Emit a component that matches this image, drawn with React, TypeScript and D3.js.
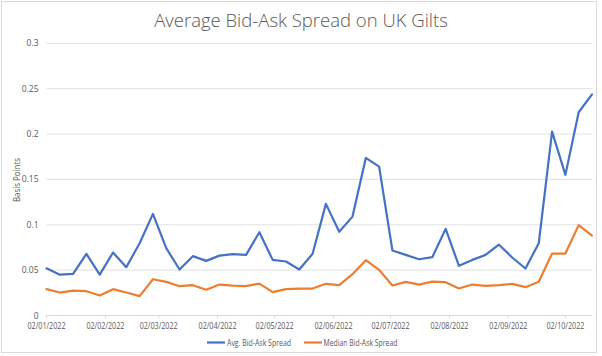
import React from "react";
import * as d3 from "d3";

const startDate = "2022-01-02";
const avgSpread = [
  0.052, 0.045, 0.0459, 0.068, 0.045, 0.0694, 0.0533, 0.0797, 0.112, 0.0742,
  0.0507, 0.0654, 0.0602, 0.066, 0.0676, 0.0668, 0.0918, 0.0613, 0.0595, 0.0507,
  0.068, 0.123, 0.0922, 0.109, 0.1737, 0.164, 0.0716, 0.0668, 0.062, 0.0643,
  0.0955, 0.0547, 0.0613, 0.0668, 0.0782, 0.0639, 0.0518, 0.0797, 0.2026, 0.155,
  0.224, 0.2438,
];
const medianSpread = [
  0.029, 0.0253, 0.0275, 0.0268, 0.022, 0.029, 0.0253, 0.0213, 0.04, 0.0371,
  0.0323, 0.0334, 0.0283, 0.0341, 0.033, 0.0323, 0.0352, 0.0257, 0.029, 0.0297,
  0.0297, 0.0349, 0.0334, 0.0455, 0.061, 0.0503, 0.033, 0.0371, 0.0341, 0.0374,
  0.0367, 0.0297, 0.0341, 0.0327, 0.0334, 0.0349, 0.0312, 0.0371, 0.0683, 0.0683,
  0.0996, 0.0881,
];
const yTicks = [0, 0.05, 0.1, 0.15, 0.2, 0.25, 0.3];
const xTickLabels = [
  "02/01/2022", "02/02/2022", "02/03/2022", "02/04/2022", "02/05/2022",
  "02/06/2022", "02/07/2022", "02/08/2022", "02/09/2022", "02/10/2022",
];
const seriesNames = ["Avg. Bid-Ask Spread", "Median Bid-Ask Spread"];
const colors = ["#4472C4", "#ED7D31"];

const W = 602;
const H = 356;
const textColor = "#595959";
const font = "'Open Sans', 'Liberation Sans', sans-serif";

export default function App() {
  const start = new Date(startDate + "T00:00:00");
  const dates = avgSpread.map((_, i) => d3.timeDay.offset(start, i * 7));
  const x = d3
    .scaleTime()
    .domain([dates[0], dates[dates.length - 1]])
    .range([46.5, 592]);
  const y = d3.scaleLinear().domain([0, 0.3]).range([315.5, 43.3]);
  const tickDates = xTickLabels.map((l) => {
    const [dd, mm, yy] = l.split("/").map(Number);
    return new Date(yy, mm - 1, dd);
  });
  const line = d3
    .line<number>()
    .x((_, i) => x(dates[i]))
    .y((d) => y(d));
  const series = [avgSpread, medianSpread];
  const fmt = (v: number) => (v === 0 ? "0" : String(+v.toFixed(2)));

  return (
    <svg
      width={W}
      height={H}
      style={{ position: "absolute", left: 0, top: 0, background: "#fff" }}
      fontFamily={font}
    >
      <rect x={0} y={0} width={W} height={H} fill="#fff" />
      <rect x={1.5} y={1.5} width={595} height={351} fill="none" stroke="#d9d9d9" strokeWidth={1} />
      <text x={301} y={27} textAnchor="middle" fontSize={18.5} fontWeight={300} fill={textColor}>
        Average Bid-Ask Spread on UK Gilts
      </text>
      {yTicks.map((t) => (
        <g key={t}>
          {t > 0 && (
            <line x1={46.5} x2={592.5} y1={y(t)} y2={y(t)} stroke="#d9d9d9" strokeWidth={0.8} />
          )}
          <text x={38.5} y={y(t) + 3} textAnchor="end" fontSize={8.5} fill={textColor}>
            {fmt(t)}
          </text>
        </g>
      ))}
      <line x1={46.5} x2={592.5} y1={y(0)} y2={y(0)} stroke="#d0d0d0" strokeWidth={0.8} />
      {tickDates.map((d, i) => (
        <g key={i}>
          <line x1={x(d)} x2={x(d)} y1={y(0)} y2={y(0) + 3} stroke="#d0d0d0" strokeWidth={0.8} />
          <text
            x={x(d)}
            y={328.5}
            textAnchor="middle"
            fontSize={8.5}
            fill={textColor}
            textLength={38}
            lengthAdjust="spacingAndGlyphs"
          >
            {xTickLabels[i]}
          </text>
        </g>
      ))}
      <text
        transform={`translate(19.5,180) rotate(-90)`}
        textAnchor="middle"
        fontSize={8.5}
        fill={textColor}
        textLength={44}
        lengthAdjust="spacingAndGlyphs"
      >
        Basis Points
      </text>
      {series.map((s, k) => (
        <path
          key={k}
          d={line(s) || ""}
          fill="none"
          stroke={colors[k]}
          strokeWidth={2.2}
          strokeLinejoin="round"
          strokeLinecap="round"
        />
      ))}
      {[
        { lx: 207, tx: 227, tl: 64 },
        { lx: 304, tx: 323.5, tl: 74 },
      ].map((p, k) => (
        <g key={k}>
          <line x1={p.lx} x2={p.lx + 18} y1={342.5} y2={342.5} stroke={colors[k]} strokeWidth={2.2} />
          <text
            x={p.tx}
            y={345.5}
            fontSize={8.5}
            fill={textColor}
            textLength={p.tl}
            lengthAdjust="spacingAndGlyphs"
          >
            {seriesNames[k]}
          </text>
        </g>
      ))}
    </svg>
  );
}
